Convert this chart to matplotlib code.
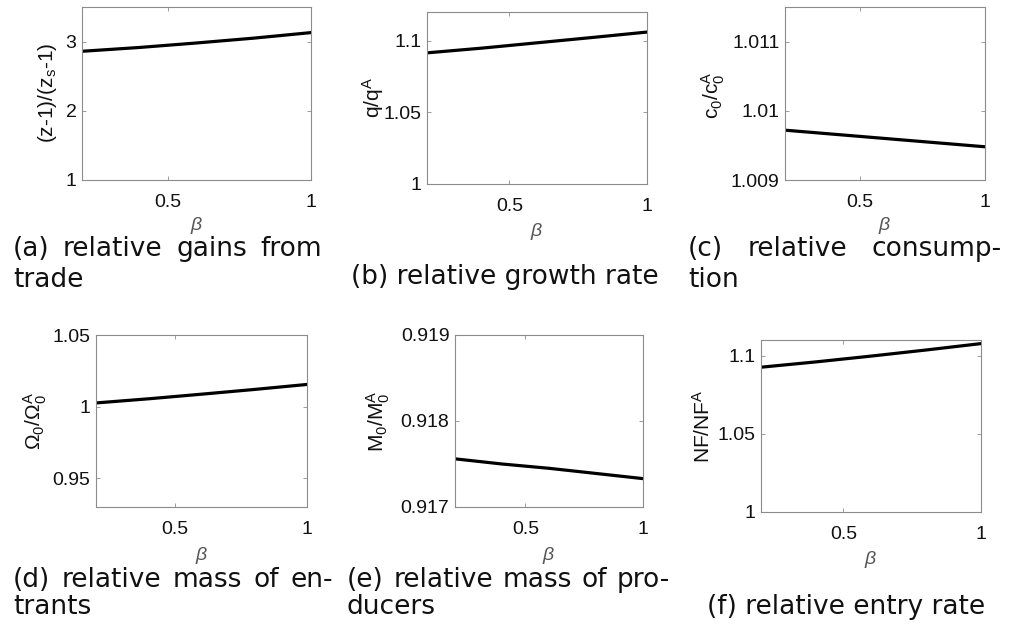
"""
Six-panel comparison of trade vs autarky outcomes against beta.
"""

import matplotlib
matplotlib.use("Agg")
import matplotlib.pyplot as plt

plt.rcParams["mathtext.fontset"] = "custom"
plt.rcParams["mathtext.rm"] = "Liberation Sans"
plt.rcParams["mathtext.it"] = "Liberation Sans:italic"
plt.rcParams["mathtext.bf"] = "Liberation Sans:bold"

W, H = 1020, 628

# beta grid and the six series
beta = [0.2, 0.4, 0.6, 0.8, 1.0]
gains_ratio = [2.86, 2.915, 2.98, 3.05, 3.13]
growth_ratio = [1.0915, 1.0948, 1.0985, 1.1022, 1.106]
consumption_ratio = [1.00972, 1.00966, 1.00960, 1.00954, 1.00948]
entrants_ratio = [1.0026, 1.0055, 1.0087, 1.0120, 1.0155]
producers_ratio = [0.91756, 0.91750, 0.91745, 0.91739, 0.91733]
entry_ratio = [1.0926, 1.0960, 1.0997, 1.1036, 1.1077]

x_ticks = [0.5, 1.0]
x_ticklabels = ["0.5", "1"]

y_ticks = [
    [1, 2, 3],
    [1.0, 1.05, 1.1],
    [1.009, 1.01, 1.011],
    [0.95, 1.0, 1.05],
    [0.917, 0.918, 0.919],
    [1.0, 1.05, 1.1],
]
y_ticklabels = [
    ["1", "2", "3"],
    ["1", "1.05", "1.1"],
    ["1.009", "1.01", "1.011"],
    ["0.95", "1", "1.05"],
    ["0.917", "0.918", "0.919"],
    ["1", "1.05", "1.1"],
]
y_limits = [
    (1, 3.5),
    (1.0, 1.12),
    (1.009, 1.0115),
    (0.93, 1.05),
    (0.917, 0.919),
    (1.0, 1.11),
]
y_labels = [
    "(z-1)/(z$_{\\rm s}$-1)",
    "q/q$^{\\rm A}$",
    "c$_{\\rm 0}$/c$_{\\rm 0}^{\\rm A}$",
    "$\\Omega_{\\rm 0}$/$\\Omega_{\\rm 0}^{\\rm A}$",
    "M$_{\\rm 0}$/M$_{\\rm 0}^{\\rm A}$",
    "NF/NF$^{\\rm A}$",
]
captions = [
    ["(a) relative gains from", "trade"],
    ["(b) relative growth rate"],
    ["(c) relative consump-", "tion"],
    ["(d) relative mass of en-", "trants"],
    ["(e) relative mass of pro-", "ducers"],
    ["(f) relative entry rate"],
]

series = [gains_ratio, growth_ratio, consumption_ratio,
          entrants_ratio, producers_ratio, entry_ratio]

# layout in figure pixels: axes box (left, top, right, bottom)
boxes = [
    (82, 7, 311, 180),
    (427, 12, 647, 184),
    (785, 7, 985, 180),
    (96, 335, 307, 507),
    (455, 335, 643, 507),
    (761, 340, 981, 512),
]
ylabel_pos = [(48, 93), (373, 98), (713, 95), (35, 421), (378, 421), (703, 426)]
beta_y = [226, 232, 226, 555, 555, 559]
# caption blocks: (left, right, first line y, second line y)
caption_pos = [
    (13, 322, 249, 280),
    (350, 660, 277, None),
    (688, 1002, 249, 280),
    (13, 333, 580, 607),
    (347, 670, 580, 607),
    (703, 990, 607, None),
]

TICK_FONT = "Liberation Sans"
CAP_FONT = "DejaVu Sans"
CAP_SIZE = 19
SPINE = "#8c8c8c"

fig = plt.figure(figsize=(W / 100, H / 100), dpi=100)
renderer = fig.canvas.get_renderer()


def fx(px):
    return px / W


def fy(py):
    return 1 - py / H


def put_line(words_line, x0, x1, y, justify):
    words = words_line.split(" ")
    texts = [fig.text(0, fy(y), w, fontsize=CAP_SIZE, family=CAP_FONT,
                      ha="left", va="center", color="#111111") for w in words]
    widths = [t.get_window_extent(renderer).width for t in texts]
    if justify and len(words) > 1:
        gap = (x1 - x0 - sum(widths)) / (len(words) - 1)
    else:
        gap = CAP_SIZE * 1.389 * 0.318
    x = x0
    for t, w in zip(texts, widths):
        t.set_x(fx(x))
        x += w + gap


for i in range(6):
    l, t, r, b = boxes[i]
    ax = fig.add_axes([fx(l), fy(b), (r - l) / W, (b - t) / H])
    ax.plot(beta, series[i], color="black", linewidth=2.3)
    ax.set_xlim(0.2, 1.0)
    ax.set_ylim(*y_limits[i])
    ax.set_xticks(x_ticks, x_ticklabels)
    ax.set_yticks(y_ticks[i], y_ticklabels[i])
    ax.tick_params(axis="both", direction="in", length=3, width=0.6,
                   color=SPINE, top=True, right=True, labelsize=14,
                   labelcolor="#111111")
    ax.tick_params(axis="x", pad=10)
    ax.tick_params(axis="y", pad=4)
    for lab in ax.get_xticklabels() + ax.get_yticklabels():
        lab.set_family(TICK_FONT)
    for sp in ax.spines.values():
        sp.set_color(SPINE)
        sp.set_linewidth(0.8)

    ax.set_ylabel(y_labels[i], fontsize=15, family=TICK_FONT, color="#111111")
    ax.yaxis.label.set_va("center")
    lx, ly = ylabel_pos[i]
    ax.yaxis.set_label_coords(fx(lx), fy(ly), transform=fig.transFigure)

    ax.set_xlabel("$\\beta$", fontsize=14, color="#555555")
    ax.xaxis.label.set_va("center")
    ax.xaxis.set_label_coords(fx((l + r) / 2), fy(beta_y[i]),
                              transform=fig.transFigure)

    cx0, cx1, cy1, cy2 = caption_pos[i]
    lines = captions[i]
    if len(lines) == 1:
        fig.text(fx((cx0 + cx1) / 2), fy(cy1), lines[0], fontsize=CAP_SIZE,
                 family=CAP_FONT, ha="center", va="center", color="#111111")
    else:
        put_line(lines[0], cx0, cx1, cy1, True)
        put_line(lines[1], cx0, cx1, cy2, False)

fig.savefig("out.png", dpi=100)
